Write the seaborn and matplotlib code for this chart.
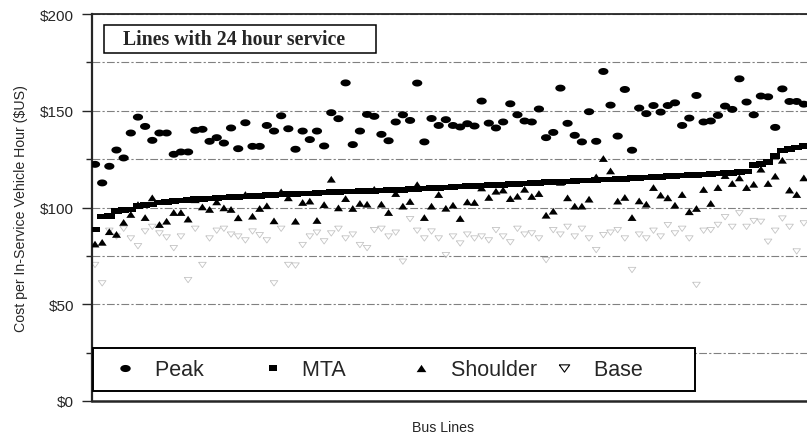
import numpy as np
import pandas as pd
import matplotlib
matplotlib.use("Agg")
import matplotlib.pyplot as plt
import seaborn as sns
from matplotlib.lines import Line2D
from matplotlib.patches import Rectangle

# ── Data ($ per in-service vehicle hour) ────────────────────────────────────
peak = [122.3, 112.7, 121.3, 129.7, 125.6, 138.5, 146.7, 141.9, 134.7, 138.5,
        138.5, 127.5, 128.7, 128.7, 139.9, 140.4, 134.2, 136.1, 133.3, 141.1,
        130.4, 143.8, 131.6, 131.6, 142.4, 139.5, 147.4, 140.7, 130.1, 139.5,
        135.1, 139.5, 131.8, 149.0, 145.9, 164.4, 132.5, 139.5, 148.1, 147.1,
        137.8, 134.5, 144.2, 147.9, 145.0, 164.3, 133.9, 146.0, 142.4, 145.4,
        142.4, 141.6, 143.3, 142.1, 155.0, 143.6, 141.1, 144.2, 153.6, 147.9,
        144.7, 144.2, 150.9, 136.1, 138.8, 161.7, 143.5, 137.3, 133.9, 149.5,
        134.2, 170.3, 152.9, 136.9, 161.0, 129.6, 151.4, 148.5, 152.7, 149.3,
        152.7, 154.1, 142.4, 146.2, 157.9, 144.2, 144.7, 147.6, 152.4, 150.7,
        166.5, 154.5, 147.9, 157.6, 157.2, 141.4, 161.3, 154.8, 154.8, 153.4]

mta = [88.7, 95.3, 95.7, 98.2, 98.6, 99.0, 100.6, 101.2, 101.6, 102.6,
       103.0, 103.3, 103.6, 104.0, 104.3, 104.5, 104.7, 104.9, 105.1, 105.3,
       105.5, 105.7, 105.9, 106.1, 106.3, 106.5, 106.7, 106.9, 107.0, 107.2,
       107.3, 107.5, 107.7, 107.9, 108.1, 108.2, 108.3, 108.5, 108.6, 108.7,
       108.8, 108.9, 109.0, 109.2, 109.4, 109.6, 109.8, 110.0, 110.2, 110.4,
       110.6, 110.8, 111.0, 111.2, 111.4, 111.5, 111.7, 111.8, 112.0, 112.2,
       112.4, 112.6, 112.8, 113.0, 113.1, 113.3, 113.5, 113.7, 113.9, 114.0,
       114.2, 114.4, 114.5, 114.7, 114.9, 115.1, 115.3, 115.5, 115.7, 115.9,
       116.1, 116.3, 116.5, 116.7, 116.9, 117.1, 117.3, 117.5, 117.7, 118.0,
       118.3, 118.6, 121.8, 122.5, 123.6, 126.5, 129.5, 130.3, 131.0, 131.6]

shoulder = [81.1, 82.0, 87.5, 86.1, 92.3, 96.4, 101.5, 94.8, 105.0, 91.2,
            92.9, 97.4, 97.4, 94.0, 104.0, 100.3, 99.0, 102.9, 99.8, 99.0,
            94.7, 106.7, 95.5, 99.5, 100.9, 93.1, 108.1, 105.0, 92.9, 102.6,
            103.3, 93.3, 101.5, 114.6, 99.8, 104.6, 99.5, 102.1, 101.7, 109.4,
            101.7, 97.4, 107.2, 100.7, 103.1, 111.8, 94.8, 100.7, 106.7, 99.6,
            101.2, 94.3, 102.9, 102.6, 110.1, 105.2, 108.4, 109.0, 104.6, 105.8,
            109.4, 105.7, 107.2, 96.0, 98.1, 113.0, 105.0, 100.7, 100.7, 104.3,
            115.8, 125.3, 118.9, 103.3, 105.2, 94.8, 103.4, 101.7, 110.3, 106.4,
            105.0, 101.2, 106.7, 97.8, 99.5, 109.3, 102.1, 110.3, 116.5, 112.4,
            115.3, 110.3, 112.0, 119.8, 112.4, 116.2, 124.4, 109.0, 106.7, 115.3]

base = [70.3, 60.8, 88.0, 85.0, 89.0, 84.0, 80.0, 87.6, 90.0, 86.6,
        84.5, 79.0, 85.0, 62.5, 89.0, 70.3, 84.0, 88.0, 89.0, 86.0,
        85.0, 83.0, 87.6, 85.7, 83.0, 60.8, 89.0, 70.3, 70.0, 80.6,
        85.0, 87.0, 82.5, 86.6, 89.0, 84.0, 86.0, 80.6, 79.0, 88.3,
        89.0, 85.0, 87.0, 72.0, 94.0, 88.0, 84.0, 87.6, 84.0, 75.4,
        85.0, 81.4, 86.0, 84.0, 85.0, 83.0, 88.3, 85.0, 82.0, 89.0,
        86.0, 86.6, 84.0, 72.8, 88.3, 86.0, 90.0, 85.0, 89.0, 84.0,
        78.0, 85.7, 87.0, 88.3, 84.0, 67.7, 86.0, 84.0, 88.0, 85.0,
        90.9, 86.6, 89.0, 84.0, 60.0, 88.0, 88.3, 91.0, 95.0, 90.0,
        97.0, 90.0, 93.0, 92.6, 82.3, 88.0, 94.3, 90.0, 77.3, 91.8]

bus_line = list(range(len(peak)))
y_ticks = [0, 50, 100, 150, 200]
y_tick_labels = ["$0", "$50", "$100", "$150", "$200"]

df = pd.DataFrame({"line": bus_line, "Peak": peak, "MTA": mta,
                   "Shoulder": shoulder, "Base": base})

# ── Style ───────────────────────────────────────────────────────────────────
sns.set_style("ticks")
plt.rcParams["font.family"] = ["Liberation Sans", "DejaVu Sans"]

W, H = 807, 439
fig = plt.figure(figsize=(W / 100, H / 100), dpi=100)
ax = fig.add_axes([92 / W, (H - 402) / H, (807 - 92) / W, (402 - 15) / H])

# marker shapes (scanned Excel markers are squat); closed outlines
t = np.linspace(0, 2 * np.pi, 41)
ellipse = list(zip(np.cos(t), 0.68 * np.sin(t)))
tri_up = [(-1, -0.75), (1, -0.75), (0, 0.75), (-1, -0.75)]
tri_down = [(-1, 0.7), (1, 0.7), (0, -0.7), (-1, 0.7)]
bar = [(-1, -0.55), (1, -0.55), (1, 0.55), (-1, 0.55), (-1, -0.55)]
bar_leg = [(-1, -0.75), (1, -0.75), (1, 0.75), (-1, 0.75), (-1, -0.75)]

# ── Series ──────────────────────────────────────────────────────────────────
sns.scatterplot(data=df, x="line", y="Base", marker=tri_down, s=30,
                color="none", edgecolor="#c4c4c4", linewidth=0.6, ax=ax, zorder=2)
sns.scatterplot(data=df, x="line", y="Shoulder", marker=tri_up, s=42,
                color="black", edgecolor="none", linewidth=0, ax=ax, zorder=3)
sns.scatterplot(data=df, x="line", y="MTA", marker=bar, s=56,
                color="black", edgecolor="none", linewidth=0, ax=ax, zorder=4)
sns.scatterplot(data=df, x="line", y="Peak", marker=ellipse, s=54,
                color="black", edgecolor="none", linewidth=0, ax=ax, zorder=3)

# ── Axes ────────────────────────────────────────────────────────────────────
ax.set_xlim(-0.42, 99.44)
ax.set_ylim(0, 200)
ax.set_xticks([])
ax.set_yticks(y_ticks)
ax.set_yticklabels(y_tick_labels)
ax.set_yticks([25, 75, 125, 175], minor=True)
ax.tick_params(axis="y", which="major", length=7, width=1, pad=6, labelsize=11)
ax.tick_params(axis="y", which="minor", length=4, width=1)
ax.yaxis.grid(True, which="both", linestyle=(0, (7, 2, 2, 2)), color="#808080",
              linewidth=0.8)
ax.set_axisbelow(True)

ax.spines["right"].set_visible(False)
ax.spines["left"].set_linewidth(1.6)
ax.spines["bottom"].set_linewidth(1.8)
ax.spines["top"].set_linewidth(1.3)

ax.set_ylabel("Cost per In-Service Vehicle Hour ($US)", fontsize=10.2)
ax.yaxis.set_label_coords(-0.0895, 0.5)
ax.set_xlabel("Bus Lines", fontsize=10.2)
ax.xaxis.set_label_coords((443 - 92) / 715, -19 / 387)

# title box
ax.add_patch(Rectangle((12.3 / 715, 0.8992), 271.4 / 715, 0.0724,
                       transform=ax.transAxes, facecolor="white",
                       edgecolor="black", linewidth=1.1, zorder=5))
ax.text(30.7 / 715, 0.9354, "Lines with 24 hour service", transform=ax.transAxes,
        family=["Liberation Serif", "DejaVu Serif"], fontweight="bold",
        fontsize=14.2, ha="left", va="center", zorder=6)

# legend (fixed-width columns like the Excel original)
NB = "\u00a0"
handles = [
    Line2D([], [], linestyle="none", marker=ellipse, markersize=7.5,
           color="black", markeredgewidth=0),
    Line2D([], [], linestyle="none", marker=bar_leg, markersize=5.5,
           color="black", markeredgewidth=0),
    Line2D([], [], linestyle="none", marker=tri_up, markersize=7,
           color="black", markeredgewidth=0),
    Line2D([], [], linestyle="none", marker=tri_down, markersize=7.5,
           markerfacecolor="none", markeredgecolor="black", markeredgewidth=0.8),
]
labels = ["Peak" + NB * 8, "MTA" + NB * 9, "Shoulder" + NB, "Base" + NB * 7]
leg = ax.legend(handles, labels, ncol=4, loc="lower left",
                bbox_to_anchor=(1 / 715, 10 / 387), borderaxespad=0,
                frameon=True, fancybox=False, edgecolor="black", framealpha=1,
                fontsize=15.5, handlelength=2.0, handletextpad=0.36,
                columnspacing=0, borderpad=0.5)
leg.get_frame().set_linewidth(1.4)
leg.set_zorder(6)

fig.savefig("out.png", dpi=100)
